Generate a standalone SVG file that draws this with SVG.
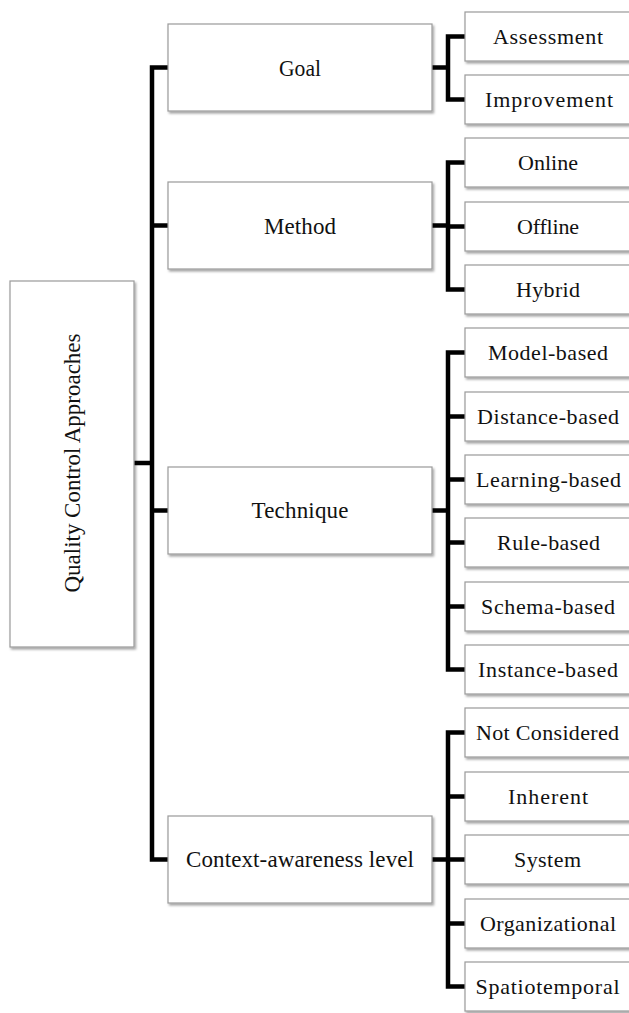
<svg xmlns="http://www.w3.org/2000/svg" width="629" height="1013" viewBox="0 0 629 1013">
<defs>
<filter id="sh" x="-10%" y="-10%" width="130%" height="130%">
<feDropShadow dx="1.5" dy="2" stdDeviation="1.3" flood-color="#000" flood-opacity="0.35"/>
</filter>
<style>
.box{fill:#fff;stroke:#9a9a9a;stroke-width:1.2;filter:url(#sh)}
.t{font-family:"Liberation Serif","Times New Roman",serif;fill:#111;text-anchor:middle}
.l1{font-size:23px}
.lf{font-size:22px}
.c{fill:none;stroke:#000;stroke-width:4.5;stroke-linejoin:miter;stroke-linecap:butt}
</style>
</defs>
<rect width="629" height="1013" fill="#fff"/>
<g id="connectors">
<path class="c" d="M134,463 H152"/>
<path class="c" d="M168,67.5 H152 V859.5 H168 M152,225.5 H168 M152,510.5 H168"/>
<path class="c" d="M432,67.5 H448 M465,36.5 H448 V99.5 H465"/>
<path class="c" d="M432,225.5 H448 M465,162.5 H448 V289.5 H465 M448,226.5 H465"/>
<path class="c" d="M432,510.5 H448 M465,352.5 H448 V669.5 H465 M448,416.5 H465 M448,479.5 H465 M448,542.5 H465 M448,606.5 H465"/>
<path class="c" d="M432,859.5 H448 M465,732.5 H448 V986.5 H465 M448,796.5 H465 M448,859.5 H465 M448,923.5 H465"/>
</g>
<g id="root">
<rect class="box" x="10" y="281" width="124" height="366"/>
<text class="t l1" transform="translate(79.5,463) rotate(-90)" x="0" y="0" textLength="259" lengthAdjust="spacing">Quality Control Approaches</text>
</g>
<g id="goal">
<rect class="box" x="168" y="24" width="264" height="87"/>
<text class="t l1" x="300" y="75.5" textLength="42" lengthAdjust="spacingAndGlyphs">Goal</text>
</g>
<g id="method">
<rect class="box" x="168" y="182" width="264" height="87"/>
<text class="t l1" x="300" y="233.5" textLength="72" lengthAdjust="spacing">Method</text>
</g>
<g id="technique">
<rect class="box" x="168" y="467" width="264" height="87"/>
<text class="t l1" x="300" y="518" textLength="97" lengthAdjust="spacing">Technique</text>
</g>
<g id="context">
<rect class="box" x="168" y="816" width="264" height="87"/>
<text class="t l1" x="300" y="867" textLength="228" lengthAdjust="spacing">Context-awareness level</text>
</g>
<g id="assessment"><rect class="box" x="465" y="12" width="166" height="49"/><text class="t lf" x="548" y="43.5" textLength="110" lengthAdjust="spacing">Assessment</text></g>
<g id="improvement"><rect class="box" x="465" y="75" width="166" height="49"/><text class="t lf" x="549" y="106.5" textLength="128" lengthAdjust="spacing">Improvement</text></g>
<g id="online"><rect class="box" x="465" y="138" width="166" height="49"/><text class="t lf" x="548" y="169.5" textLength="60" lengthAdjust="spacing">Online</text></g>
<g id="offline"><rect class="box" x="465" y="202" width="166" height="49"/><text class="t lf" x="548" y="233.5" textLength="62" lengthAdjust="spacing">Offline</text></g>
<g id="hybrid"><rect class="box" x="465" y="265" width="166" height="49"/><text class="t lf" x="548" y="296.5" textLength="64" lengthAdjust="spacing">Hybrid</text></g>
<g id="model-based"><rect class="box" x="465" y="328" width="166" height="49"/><text class="t lf" x="548" y="359.5" textLength="120" lengthAdjust="spacing">Model-based</text></g>
<g id="distance-based"><rect class="box" x="465" y="392" width="166" height="49"/><text class="t lf" x="548" y="423.5" textLength="142" lengthAdjust="spacing">Distance-based</text></g>
<g id="learning-based"><rect class="box" x="465" y="455" width="166" height="49"/><text class="t lf" x="548.5" y="486.5" textLength="145" lengthAdjust="spacing">Learning-based</text></g>
<g id="rule-based"><rect class="box" x="465" y="518" width="166" height="49"/><text class="t lf" x="548.5" y="549.5" textLength="103" lengthAdjust="spacing">Rule-based</text></g>
<g id="schema-based"><rect class="box" x="465" y="582" width="166" height="49"/><text class="t lf" x="548" y="613.5" textLength="134" lengthAdjust="spacing">Schema-based</text></g>
<g id="instance-based"><rect class="box" x="465" y="645" width="166" height="49"/><text class="t lf" x="548" y="676.5" textLength="140" lengthAdjust="spacing">Instance-based</text></g>
<g id="not-considered"><rect class="box" x="465" y="708" width="166" height="49"/><text class="t lf" x="547.5" y="739.5" textLength="143" lengthAdjust="spacing">Not Considered</text></g>
<g id="inherent"><rect class="box" x="465" y="772" width="166" height="49"/><text class="t lf" x="548" y="803.5" textLength="80" lengthAdjust="spacing">Inherent</text></g>
<g id="system"><rect class="box" x="465" y="835" width="166" height="49"/><text class="t lf" x="547.5" y="866.5" textLength="67" lengthAdjust="spacing">System</text></g>
<g id="organizational"><rect class="box" x="465" y="899" width="166" height="49"/><text class="t lf" x="548" y="930.5" textLength="136" lengthAdjust="spacing">Organizational</text></g>
<g id="spatiotemporal"><rect class="box" x="465" y="962" width="166" height="49"/><text class="t lf" x="547.5" y="993.5" textLength="144" lengthAdjust="spacing">Spatiotemporal</text></g>
</svg>
